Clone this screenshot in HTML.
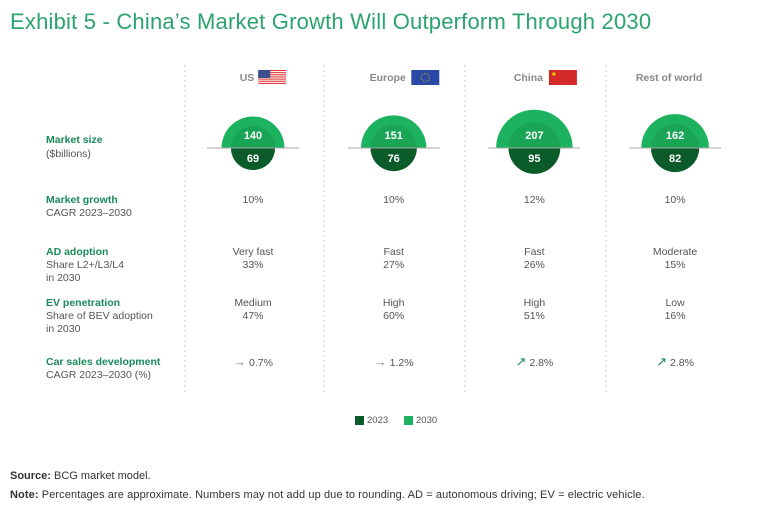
<!DOCTYPE html>
<html><head><meta charset="utf-8"><style>
body{margin:0;background:#fff;font-family:"Liberation Sans",sans-serif;}
#wrap{position:relative;width:768px;height:527px;overflow:hidden;}
.t{position:absolute;white-space:nowrap;}
.lbl{color:#1a8a5a;font-size:10.5px;font-weight:bold;}
.sub{color:#555;font-size:10.5px;line-height:13px;}
.val{color:#555;font-size:10.5px;line-height:13px;text-align:center;width:130px;}
</style></head><body>
<div id="wrap">
<div class="t" style="left:10px;top:9px;font-size:22px;letter-spacing:0.2px;color:#2ba36d;">Exhibit 5 - China’s Market Growth Will Outperform Through 2030</div>
<svg id="svg" width="768" height="527" style="position:absolute;left:0;top:0"></svg>
<div class="t lbl" style="left:46px;top:134px">Market size</div>
<div class="t sub" style="left:46px;top:148px">($billions)</div>
<div class="t lbl" style="left:46px;top:194px">Market growth</div>
<div class="t sub" style="left:46px;top:207px">CAGR 2023–2030</div>
<div class="t lbl" style="left:46px;top:246px">AD adoption</div>
<div class="t sub" style="left:46px;top:259px">Share L2+/L3/L4<br>in 2030</div>
<div class="t lbl" style="left:46px;top:297px">EV penetration</div>
<div class="t sub" style="left:46px;top:310px">Share of BEV adoption<br>in 2030</div>
<div class="t lbl" style="left:46px;top:356px">Car sales development</div>
<div class="t sub" style="left:46px;top:369px">CAGR 2023–2030 (%)</div>
<div id="vals"></div>
<div class="t" style="left:355px;top:416px;width:9px;height:9px;background:#0b5a2a"></div>
<div class="t sub" style="left:367px;top:414px;font-size:9.5px">2023</div>
<div class="t" style="left:404px;top:416px;width:9px;height:9px;background:#1db25f"></div>
<div class="t sub" style="left:416px;top:414px;font-size:9.5px">2030</div>
<div class="t" style="left:10px;top:470px;font-size:11px;color:#333"><b>Source:</b> BCG market model.</div>
<div class="t" style="left:10px;top:489px;font-size:11px;letter-spacing:0.1px;color:#333"><b>Note:</b> Percentages are approximate. Numbers may not add up due to rounding. AD = autonomous driving; EV = electric vehicle.</div>
</div>
<script>
const regions=["US","Europe","China","Rest of world"];
const size2030=[140,151,207,162];
const size2023=[69,76,95,82];
const growth=["10%","10%","12%","10%"];
const adLevel=["Very fast","Fast","Fast","Moderate"];
const adShare=["33%","27%","26%","15%"];
const evLevel=["Medium","High","High","Low"];
const evShare=["47%","60%","51%","16%"];
const salesArrow=["→","→","↗","↗"];
const salesVal=["0.7%","1.2%","2.8%","2.8%"];
const NS="http://www.w3.org/2000/svg";
const svg=document.getElementById('svg');
const cx=i=>253+i*140.7;
const rad=v=>2.66*Math.sqrt(v);
const base=148;
function mk(tag,attrs,parent){const e=document.createElementNS(NS,tag);for(const k in attrs)e.setAttribute(k,attrs[k]);(parent||svg).appendChild(e);return e;}
[185,324,465,606].forEach((x,i)=>{
 const l=mk('line',{x1:x,y1:65,x2:x,y2:395,stroke:'#ccc','stroke-dasharray':'2,3','stroke-width':1});
 
 
});
const vals=document.getElementById('vals');
function txt(x,y,s,style,name){const d=document.createElement('div');d.className='t val';d.style.left=(x-65)+'px';d.style.top=y+'px';if(style)d.style.cssText+=style;d.innerHTML=s;
 
 
 vals.appendChild(d);}
regions.forEach((r,i)=>{
 const x=cx(i);
 const h=mk('text',{x:x-6,y:81,'text-anchor':'middle','font-size':'10.5','font-weight':'bold',fill:'#888','font-family':'Liberation Sans'});
 h.textContent=r;
 const w=r.length*6.2;
 const fx=x-6+w/2+5;
 if(i<3){
  const g=mk('g',{});
  if(i==0){for(let k=0;k<7;k++)mk('rect',{x:fx,y:70+k*2.14,width:28,height:1.07,fill:'#d33'},g);mk('rect',{x:fx,y:70,width:12,height:8,fill:'#3b4f8e'},g);}
  if(i==1){mk('rect',{x:fx,y:70,width:28,height:15,fill:'#2a49a7'},g);mk('circle',{cx:fx+14,cy:77.5,r:4,fill:'none',stroke:'#e6c700','stroke-dasharray':'1,1.5'},g);}
  if(i==2){mk('rect',{x:fx,y:70,width:28,height:15,fill:'#d42a2a'},g);mk('circle',{cx:fx+5,cy:74,r:1.6,fill:'#f5d400'},g);}
 }
 const R=rad(size2030[i]),r2=rad(size2023[i]);
 const a=mk('path',{d:`M${x-R},${base} A${R},${R} 0 0 1 ${x+R},${base} Z`,fill:'#1db25f'});
 
 const b=mk('path',{d:`M${x-r2},${base} A${r2},${r2} 0 0 1 ${x+r2},${base} Z`,fill:'#0b5a2a','fill-opacity':0.15});
 
 const c=mk('path',{d:`M${x-r2},${base} A${r2},${r2} 0 0 0 ${x+r2},${base} Z`,fill:'#0b5a2a'});
 
 const ln=mk('line',{x1:x-46,x2:x+46,y1:base,y2:base,stroke:'#aaa','stroke-width':1});
 
 const t1=mk('text',{x:x,y:base-9,'text-anchor':'middle','font-size':'11','font-weight':'bold',fill:'#fff','font-family':'Liberation Sans'});t1.textContent=size2030[i];
 
 const t2=mk('text',{x:x,y:base+14,'text-anchor':'middle','font-size':'11','font-weight':'bold',fill:'#fff','font-family':'Liberation Sans'});t2.textContent=size2023[i];
 
 txt(x,194,growth[i],'','growth-value');
 txt(x,246,adLevel[i]+'<br>'+adShare[i],'','ad-value');
 txt(x,297,evLevel[i]+'<br>'+evShare[i],'','ev-value');
 txt(x,355,'<span style="font-size:13px;color:'+(salesArrow[i]=='→'?'#888':'#1a8a5a')+'">'+salesArrow[i]+'</span> '+salesVal[i],'','sales-value');
});
</script>
</body></html>
